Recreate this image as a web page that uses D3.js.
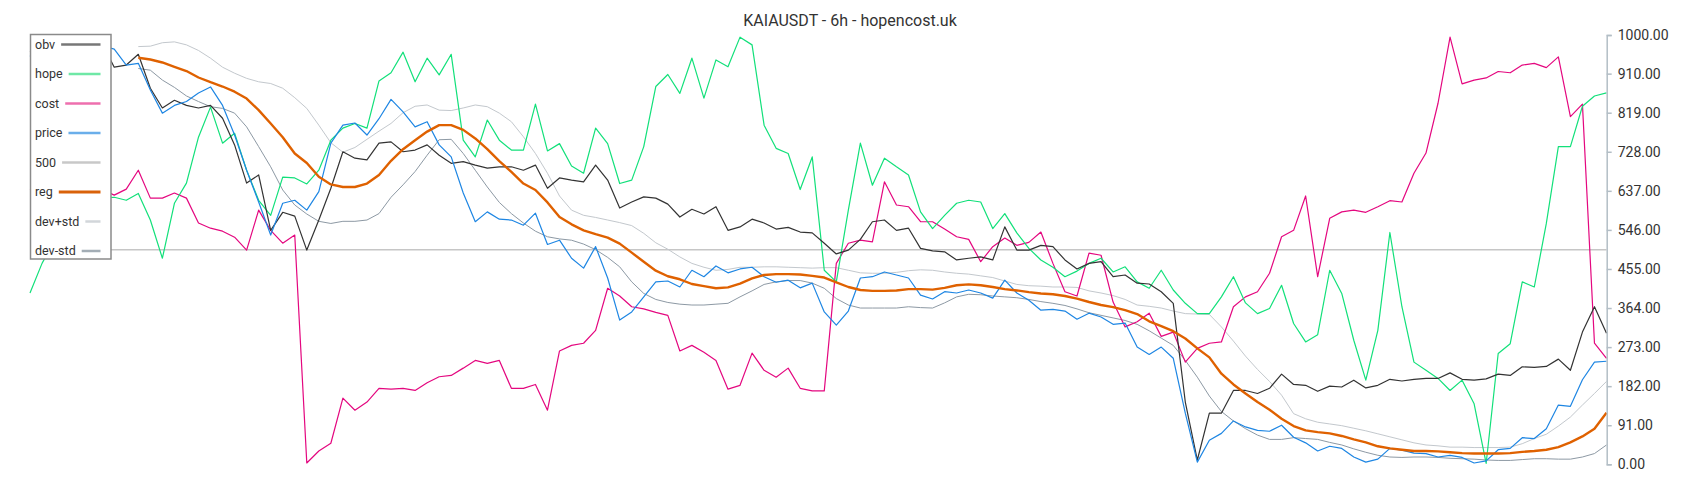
<!DOCTYPE html>
<html>
<head>
<meta charset="utf-8">
<script src="https://cdn.jsdelivr.net/npm/d3@7"></script>
<style>
  body { margin: 0; background: #fff; }
  text { font-family: Roboto, "Noto Sans", sans-serif; }
</style>
</head>
<body>
<div id="chart"></div>
<script>
var width = 1700,
    height = 500;

var title = "KAIAUSDT - 6h - hopencost.uk";

// y axis ticks (right side)
var yTicks = [0, 91, 182, 273, 364, 455, 546, 637, 728, 819, 910, 1000];

// series values, one per 6h bar
var obv = [960, 975, 985, 1000, 990, 970, 980, 925, 930, 955, 876, 830, 848, 836, 830, 836, 806, 744, 655, 674, 545, 587, 578,
  499, 569, 643, 728, 713, 709, 748, 751, 728, 732, 744, 720, 701, 705, 697, 690, 693, 693, 685, 697, 643,
  667, 662, 658, 697, 662, 597, 611, 623, 620, 606, 576, 594, 583, 600, 545, 553, 571, 562, 548, 552, 541, 539,
  515, 490, 499, 524, 565, 569, 545, 550, 503, 497, 495, 476, 480, 483, 476, 553, 499, 499, 510, 507, 476, 455,
  468, 472, 437, 441, 422, 420, 402, 375, 145, 10, 119, 119, 172, 172, 165, 177, 210, 186, 184, 170, 182, 180,
  196, 178, 184, 198, 194, 198, 200, 200, 213, 198, 196, 199, 210, 207, 227, 226, 228, 245, 219, 308, 367, 305];

var hope = [399, 468, 520, 560, 600, 640, 620, 622, 615, 631, 569, 480, 608, 655, 762, 832, 748, 771, 685, 615, 580, 669, 667,
  653, 685, 755, 783, 794, 783, 893, 912, 960, 891, 946, 907, 955, 755, 716, 802, 755, 732, 732, 839, 730,
  747, 695, 678, 783, 747, 654, 662, 740, 880, 908, 864, 946, 853, 942, 926, 995, 977, 790, 736, 724, 640, 716,
  452, 425, 592, 748, 650, 713, 693, 674, 588, 549, 580, 608, 615, 611, 549, 584, 539, 503, 476, 459, 437, 450,
  468, 480, 448, 460, 425, 410, 452, 406, 375, 351, 351, 390, 437, 376, 351, 363, 417, 328, 285, 302, 452, 398,
  289, 196, 312, 540, 367, 238, 219, 200, 172, 196, 141, 2, 258, 281, 425, 413, 561, 740, 740, 834, 858, 865];

var cost = [640, 650, 620, 660, 640, 660, 640, 627, 641, 685, 620, 620, 632, 620, 562, 550, 543, 529, 499, 592, 545, 515, 534,
  3, 31, 49, 154, 126, 145, 177, 175, 177, 172, 190, 204, 207, 224, 242, 235, 242, 177, 177, 186, 126,
  264, 277, 282, 312, 410, 392, 367, 362, 354, 347, 264, 277, 261, 242, 175, 184, 259, 219, 203, 224, 177, 171,
  171, 468, 515, 522, 518, 658, 604, 600, 565, 565, 548, 530, 524, 472, 507, 527, 510, 517, 541, 468, 402, 392,
  492, 487, 378, 320, 332, 352, 298, 308, 238, 270, 282, 285, 367, 390, 402, 445, 530, 545, 625, 437, 573, 588,
  592, 587, 600, 614, 611, 678, 725, 841, 995, 886, 895, 900, 915, 912, 930, 934, 924, 949, 810, 839, 282, 247];

var price = [950, 975, 990, 995, 985, 960, 975, 967, 930, 934, 872, 818, 836, 845, 865, 879, 836, 767, 685, 611, 534, 608, 615,
  592, 635, 748, 790, 795, 767, 805, 850, 821, 786, 798, 744, 716, 632, 565, 588, 571, 569, 557, 585, 512,
  522, 480, 457, 507, 434, 336, 355, 390, 425, 427, 413, 452, 437, 462, 446, 455, 459, 437, 424, 429, 411, 422,
  355, 324, 357, 434, 437, 448, 441, 434, 394, 385, 402, 399, 406, 399, 387, 429, 399, 382, 359, 361, 357, 338,
  352, 343, 326, 329, 273, 256, 273, 247, 119, 5, 56, 72, 101, 87, 79, 77, 91, 63, 50, 31, 42, 37,
  17, 5, 12, 37, 33, 26, 25, 17, 21, 16, 3, 8, 34, 37, 62, 60, 83, 138, 135, 197, 238, 240];

var reg = [null, null, null, null, null, null, null, null, null, 947, 943, 936, 926, 916, 901, 890, 880, 868, 852, 825, 794, 762, 724,
  702, 670, 652, 646, 646, 654, 674, 707, 734, 755, 775, 790, 790, 779, 759, 734, 706, 681, 654, 639, 610,
  576, 559, 545, 536, 528, 514, 493, 472, 451, 438, 431, 420, 415, 410, 412, 421, 433, 441, 443, 443, 442, 439,
  435, 424, 413, 406, 404, 404, 405, 408, 408, 407, 411, 417, 419, 417, 413, 408, 405, 401, 398, 396, 392, 386,
  378, 371, 366, 359, 350, 333, 322, 310, 293, 270, 249, 211, 186, 165, 145, 127, 106, 89, 79, 75, 72, 66,
  58, 51, 42, 37, 34, 31, 31, 30, 28, 26, 25, 25, 25, 26, 29, 31, 34, 40, 51, 65, 83, 120];

var devPlus = [null, null, null, null, null, null, null, null, null, 973, 974, 982, 984, 977, 964, 946, 925, 911, 899, 891, 887, 876, 854,
  829, 790, 749, 727, 738, 757, 776, 794, 819, 834, 837, 825, 824, 830, 837, 833, 818, 798, 763, 724, 678,
  625, 592, 580, 575, 569, 563, 556, 538, 516, 501, 483, 468, 459, 452, 454, 459, 459, 460, 460, 459, 458, 457,
  458, 458, 452, 446, 445, 445, 447, 451, 453, 452, 448, 445, 443, 439, 435, 427, 419, 416, 415, 413, 413, 412,
  404, 399, 393, 384, 371, 368, 364, 357, 351, 350, 349, 320, 287, 252, 221, 193, 161, 118, 106, 98, 94, 90,
  84, 78, 71, 64, 57, 50, 45, 43, 40, 40, 39, 39, 39, 40, 48, 60, 70, 89, 110, 138, 165, 193];

var devMinus = [null, null, null, null, null, null, null, null, null, 922, 918, 895, 878, 858, 845, 833, 829, 818, 786, 740, 693, 639, 604,
  583, 566, 561, 566, 566, 569, 584, 622, 651, 682, 720, 756, 757, 724, 685, 646, 610, 584, 562, 543, 530,
  525, 522, 513, 500, 482, 460, 425, 398, 384, 377, 373, 371, 371, 373, 375, 390, 404, 419, 425, 428, 428, 422,
  410, 386, 371, 364, 364, 364, 364, 367, 365, 364, 376, 390, 396, 395, 392, 390, 388, 384, 379, 375, 370, 362,
  353, 347, 341, 335, 326, 311, 294, 277, 242, 203, 159, 123, 101, 83, 68, 58, 58, 62, 60, 58, 51, 45,
  36, 28, 21, 17, 16, 17, 17, 16, 14, 13, 12, 10, 9, 9, 11, 13, 13, 12, 12, 17, 25, 45];

var level = 500;

var legendNames = ["obv", "hope", "cost", "price", "500", "reg", "dev+std", "dev-std"];
var legendColors = ["#777777", "#6fe8a6", "#ee6fae", "#6aaeea", "#c8c8c8", "#d9620a", "#d2d6da", "#a3adb5"];
var legendWidths = [2.5, 2.5, 2.5, 2.5, 2.5, 3, 2.5, 2.5];

var svg = d3.select("#chart")
  .append("svg")
  .attr("width", width)
  .attr("height", height);

var x = d3.scaleLinear()
  .domain([0, obv.length - 1])
  .range([30, 1606.5]);

var y = d3.scaleLinear()
  .domain([0, 1000])
  .range([464.3, 35]);

function drawLine(data, color, w) {
  var line = d3.line()
    .defined(function(d) { return d !== null; })
    .x(function(d, i) { return x(i); })
    .y(function(d) { return y(d); });
  svg.append("path")
    .datum(data)
    .attr("fill", "none")
    .attr("stroke", color)
    .attr("stroke-width", w)
    .attr("stroke-linejoin", "round")
    .attr("d", line);
}

// 500 level
svg.append("line")
  .attr("x1", x(0))
  .attr("x2", x(obv.length - 1))
  .attr("y1", y(level))
  .attr("y2", y(level))
  .attr("stroke", "#c6c6c6")
  .attr("stroke-width", 1.5);

drawLine(devPlus, "#c3c8cd", 1);
drawLine(devMinus, "#8d99a4", 1);
drawLine(cost, "#e4077f", 1.2);
drawLine(hope, "#12e07a", 1.2);
drawLine(obv, "#333333", 1.2);
drawLine(price, "#1e86e3", 1.2);
drawLine(reg, "#df6100", 2.4);

// right axis
var axis = d3.axisRight(y)
  .tickValues(yTicks)
  .tickFormat(d3.format(".2f"))
  .tickSize(5)
  .tickPadding(6);

var ax = svg.append("g")
  .attr("transform", "translate(1606.7,0)")
  .call(axis);

ax.select(".domain").attr("stroke", "#b3bec6").attr("stroke-width", 1.5);
ax.selectAll(".tick line").attr("stroke", "#b3bec6").attr("stroke-width", 1.5);
ax.selectAll(".tick text")
  .attr("fill", "#333")
  .attr("font-size", "14px")
  .style("font-family", "Roboto, sans-serif");

// title
svg.append("text")
  .attr("x", 850)
  .attr("y", 26)
  .attr("text-anchor", "middle")
  .attr("font-size", "16px")
  .attr("fill", "#333")
  .text(title);

// legend
var lg = svg.append("g");
lg.append("rect")
  .attr("x", 30.5)
  .attr("y", 34.5)
  .attr("width", 80.5)
  .attr("height", 224.5)
  .attr("fill", "#fff")
  .attr("stroke", "#8a8a8a")
  .attr("stroke-width", 1.5);

legendNames.forEach(function(name, i) {
  var cy = 44.5 + i * 29.5;
  var t = lg.append("text")
    .attr("x", 35)
    .attr("y", cy + 4.3)
    .attr("font-size", "12.5px")
    .attr("fill", "#333")
    .text(name);
  var tw = t.node().getComputedTextLength();
  lg.append("line")
    .attr("x1", 35 + tw + 6)
    .attr("x2", 100.5)
    .attr("y1", cy)
    .attr("y2", cy)
    .attr("stroke", legendColors[i])
    .attr("stroke-width", legendWidths[i]);
});
</script>
</body>
</html>
